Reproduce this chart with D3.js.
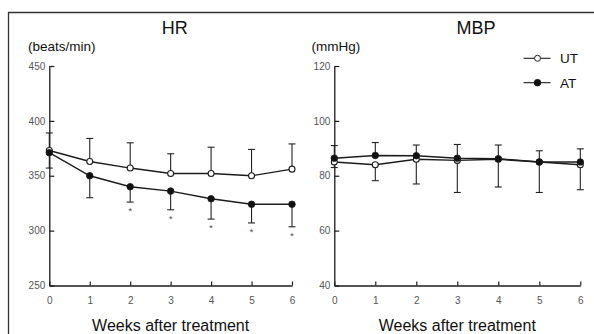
<!DOCTYPE html>
<html>
<head>
<meta charset="utf-8">
<script src="https://cdn.jsdelivr.net/npm/d3@7"></script>
<style>
  html, body { margin: 0; padding: 0; background: #fff; }
  svg { display: block; font-family: "Liberation Sans", Arial, sans-serif; }
</style>
</head>
<body>
<svg id="chart" width="594" height="334"></svg>
<script>
// Weeks after treatment
const weeks = [0, 1, 2, 3, 4, 5, 6];

// Heart rate (beats/min), mean and SD
const hrUT = [373, 363, 357, 352, 352, 350, 356];
const hrUTsd = [16, 21, 23, 18, 24, 24, 23];
const hrAT = [371, 350, 340, 336, 329, 324, 324];
const hrATsd = [14, 20, 14, 17, 18.5, 17, 20.5];
const hrSignificant = [2, 3, 4, 5, 6];

// Mean blood pressure (mmHg), mean and SD
const mbpUT = [85, 84, 86, 85.6, 86, 85, 84];
const mbpUTsd = [2, 5.8, 9, 11.7, 10.1, 11.1, 9.1];
const mbpAT = [86.4, 87.4, 87.3, 86.4, 86.2, 85, 85];
const mbpATsd = [4.6, 4.7, 3.9, 5, 5, 4.1, 4.8];

const hrTicks = [250, 300, 350, 400, 450];
const mbpTicks = [40, 60, 80, 100, 120];

const svg = d3.select("#chart");
const ink = "#1c1c1c";

// outer frame (top and left rule)
svg.append("path")
  .attr("d", "M8.5,334V12.5H594")
  .attr("fill", "none").attr("stroke", "#333").attr("stroke-width", 1.3);

function panel(opts) {
  const x = d3.scaleLinear().domain([0, 6]).range(opts.xRange);
  const y = d3.scaleLinear().domain(opts.yDomain).range([285.5, 66]);
  const g = svg.append("g");

  // axes with inward ticks
  const yAxis = d3.axisLeft(y).tickValues(opts.ticks).tickFormat(d3.format("d"))
    .tickSize(-5).tickSizeOuter(0).tickPadding(4);
  const xAxis = d3.axisBottom(x).tickValues(weeks).tickFormat(d3.format("d"))
    .tickSize(-4).tickSizeOuter(0).tickPadding(11);

  const ga = g.append("g").attr("transform", `translate(${opts.xRange[0]},0)`).call(yAxis);
  const gb = g.append("g").attr("transform", "translate(0,285.5)").call(xAxis);
  [ga, gb].forEach(a => {
    a.selectAll(".domain").attr("stroke", ink).attr("stroke-width", 1.3);
    a.selectAll(".tick line").attr("stroke", ink).attr("stroke-width", 1.2);
    a.selectAll(".tick text").attr("fill", "#555").style("font-size", "10px")
      .style("font-family", "'Liberation Sans', Arial, sans-serif");
  });

  // titles
  g.append("text").attr("x", opts.titleX).attr("y", 34).attr("text-anchor", "middle")
    .style("font-size", "18px").attr("fill", "#111").text(opts.title);
  g.append("text").attr("x", opts.unitX).attr("y", 51)
    .style("font-size", "13.5px").attr("fill", "#111").text(opts.unit);
  g.append("text").attr("x", (opts.xRange[0] + opts.xRange[1]) / 2).attr("y", 331)
    .attr("text-anchor", "middle").style("font-size", "16px").attr("fill", "#111")
    .text("Weeks after treatment");

  // error bars: one direction per series
  function errorBars(mean, sd, dir) {
    const eg = g.append("g").attr("stroke", "#222").attr("stroke-width", 1.1);
    weeks.forEach((w, i) => {
      const cx = x(w), y0 = y(mean[i]), y1 = y(mean[i] + dir * sd[i]);
      eg.append("line").attr("x1", cx).attr("x2", cx).attr("y1", y0).attr("y2", y1);
      eg.append("line").attr("x1", cx - 3.5).attr("x2", cx + 3.5).attr("y1", y1).attr("y2", y1);
    });
  }
  errorBars(opts.ut, opts.utSd, opts.utDir);
  errorBars(opts.at, opts.atSd, -opts.utDir);

  const line = d3.line().x((d, i) => x(weeks[i])).y(d => y(d));
  [opts.ut, opts.at].forEach(s => {
    g.append("path").attr("d", line(s)).attr("fill", "none")
      .attr("stroke", ink).attr("stroke-width", 1.4);
  });

  g.selectAll(null).data(opts.ut).join("circle")
    .attr("cx", (d, i) => x(weeks[i])).attr("cy", d => y(d)).attr("r", 3)
    .attr("fill", "#fff").attr("stroke", ink).attr("stroke-width", 1.1);
  g.selectAll(null).data(opts.at).join("circle")
    .attr("cx", (d, i) => x(weeks[i])).attr("cy", d => y(d)).attr("r", 3.3)
    .attr("fill", "#111").attr("stroke", ink).attr("stroke-width", 0.8);

  if (opts.sig) {
    opts.sig.forEach(w => {
      const i = weeks.indexOf(w);
      g.append("text").attr("x", x(w)).attr("y", y(opts.at[i] - opts.atSd[i]) + 12)
        .attr("text-anchor", "middle").style("font-size", "9px").attr("fill", "#444").text("*");
    });
  }
  return { x, y };
}

panel({
  xRange: [49.3, 292], yDomain: [250, 450], ticks: hrTicks,
  title: "HR", titleX: 174.7, unit: "(beats/min)", unitX: 28,
  ut: hrUT, utSd: hrUTsd, at: hrAT, atSd: hrATsd, utDir: 1, sig: hrSignificant
});

panel({
  xRange: [334.3, 580.3], yDomain: [40, 120], ticks: mbpTicks,
  title: "MBP", titleX: 476, unit: "(mmHg)", unitX: 311.5,
  ut: mbpUT, utSd: mbpUTsd, at: mbpAT, atSd: mbpATsd, utDir: -1
});

// legend
const legend = svg.append("g");
[{ name: "UT", fill: "#fff", r: 3, y: 58.3 }, { name: "AT", fill: "#111", r: 3.3, y: 82.7 }].forEach(d => {
  legend.append("line").attr("x1", 523.5).attr("x2", 550.5).attr("y1", d.y).attr("y2", d.y)
    .attr("stroke", ink).attr("stroke-width", 1.1);
  legend.append("circle").attr("cx", 537.5).attr("cy", d.y).attr("r", d.r)
    .attr("fill", d.fill).attr("stroke", ink).attr("stroke-width", 1);
  legend.append("text").attr("x", 560).attr("y", d.y + 5).style("font-size", "13.5px")
    .attr("fill", "#111").text(d.name);
});
</script>
</body>
</html>
